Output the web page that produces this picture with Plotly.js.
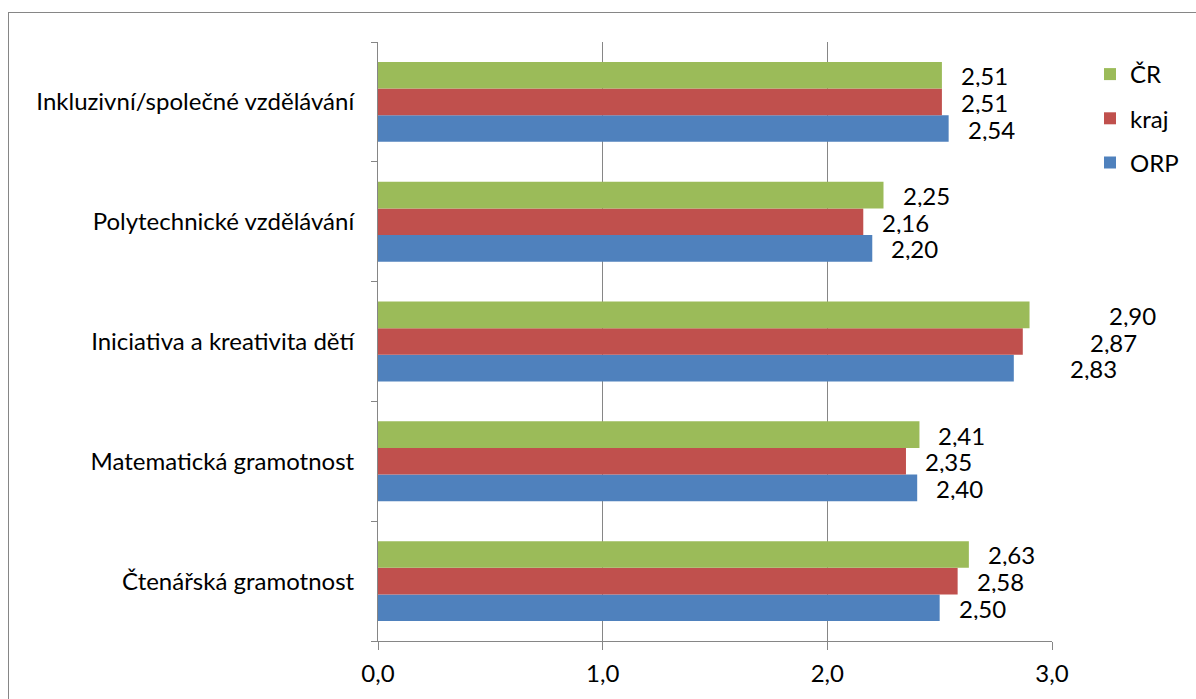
<!DOCTYPE html>
<html>
<head>
<meta charset="utf-8">
<script src="https://cdn.plot.ly/plotly-3.0.1.min.js"></script>
<style>
  html, body { margin: 0; padding: 0; overflow: hidden; background: #fff; }
  #frame { position: absolute; left: 8px; top: 12px; width: 1400px; height: 900px; border: 1px solid #868686; }
  #chart { position: absolute; left: 0; top: 0; width: 1196px; height: 699px; }
</style>
</head>
<body>
<div id="frame"></div>
<div id="chart"></div>
<script>
const categories = ['Čtenářská gramotnost', 'Matematická gramotnost', 'Iniciativa a kreativita dětí', 'Polytechnické vzdělávání', 'Inkluzivní/společné vzdělávání'];
const seriesNames = ['ORP', 'kraj', 'ČR'];
const orpValues = [2.50, 2.40, 2.83, 2.20, 2.54];
const krajValues = [2.58, 2.35, 2.87, 2.16, 2.51];
const crValues = [2.63, 2.41, 2.90, 2.25, 2.51];
const xTickVals = [0, 1, 2, 3];

const seriesValues = [orpValues, krajValues, crValues];
const colors = ['#4F81BD', '#C0504D', '#9BBB59'];
const legendRanks = [3, 2, 1];
const font = 'Lato, "Open Sans", sans-serif';
const fontSize = 24;
const bargap = 0.333;
const barW = (1 - bargap) / 3;
// label pixel shifts (style): default, plus manual ones for the crowded group
const labelShift = [
  [17, 17, 54, 17, 17],
  [17, 17, 65, 17, 17],
  [17, 17, 77, 17, 17]
];

const fmt = v => v.toFixed(2).replace('.', ',');

const traces = seriesValues.map((vals, i) => ({
  type: 'bar',
  orientation: 'h',
  name: seriesNames[i],
  x: vals,
  y: categories,
  legendgroup: seriesNames[i],
  legendrank: legendRanks[i],
  marker: { color: colors[i], line: { width: 0 } },
  hoverinfo: 'x+name'
}));

const annotations = [];
seriesValues.forEach((vals, i) => {
  vals.forEach((v, j) => {
    annotations.push({
      x: v,
      y: j + (i - 1) * barW,
      xref: 'x', yref: 'y',
      text: fmt(v),
      showarrow: false,
      xanchor: 'left',
      yanchor: 'middle',
      height: 24,
      valign: 'middle',
      xshift: labelShift[i][j],
      font: { family: font, size: fontSize, color: '#000' }
    });
  });
});

const layout = {
  width: 1196,
  height: 699,
  margin: { l: 378, r: 144, t: 42, b: 58, pad: 0, autoexpand: false },
  paper_bgcolor: 'rgba(0,0,0,0)',
  plot_bgcolor: 'rgba(0,0,0,0)',
  barmode: 'group',
  bargap: bargap,
  bargroupgap: 0,
  separators: ', ',
  font: { family: font, size: fontSize, color: '#000' },
  showlegend: true,
  legend: {
    xref: 'container', yref: 'container',
    x: 1090 / 1196, y: 1 - 52 / 699, xanchor: 'left', yanchor: 'top',
    traceorder: 'grouped',
    tracegroupgap: 10,
    font: { family: font, size: fontSize, color: '#000' },
    itemwidth: 30,
    bgcolor: 'rgba(0,0,0,0)'
  },
  xaxis: {
    range: [0, 3],
    tickvals: xTickVals,
    tickformat: '.1f',
    showgrid: true,
    gridcolor: '#868686',
    gridwidth: 1,
    zeroline: false,
    showline: true,
    linecolor: '#868686',
    linewidth: 1,
    ticks: 'outside',
    ticklen: 8,
    tickcolor: '#868686',
    ticklabelstandoff: 3,
    tickfont: { family: font, size: fontSize, color: '#000' },
    fixedrange: true
  },
  yaxis: {
    type: 'category',
    range: [-0.5, 4.5],
    tickson: 'boundaries',
    ticks: 'outside',
    ticklen: 6,
    tickcolor: '#868686',
    showgrid: false,
    zeroline: false,
    showline: true,
    linecolor: '#868686',
    linewidth: 1,
    ticklabelstandoff: 18,
    tickfont: { family: font, size: fontSize, color: '#000' },
    fixedrange: true
  },
  annotations: annotations
};

Plotly.newPlot('chart', traces, layout, { displayModeBar: false, staticPlot: true });
</script>
</body>
</html>
